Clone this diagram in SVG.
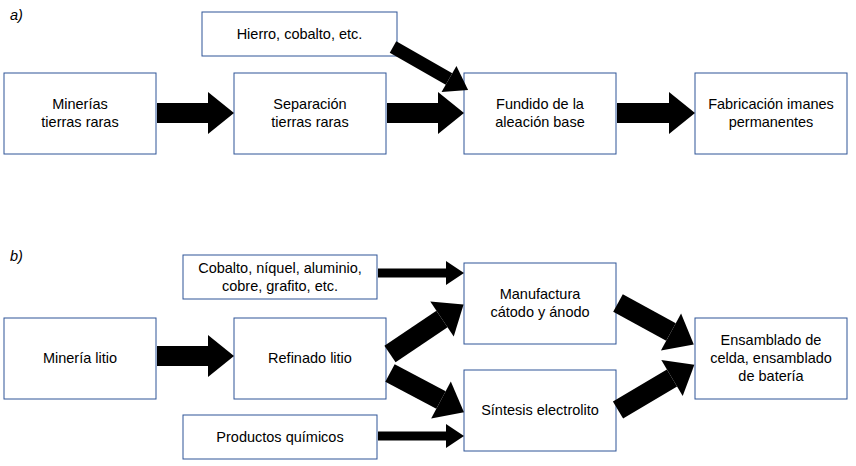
<svg xmlns="http://www.w3.org/2000/svg" width="856" height="466" viewBox="0 0 856 466">
<style>
.b{fill:#fff;stroke:#2f5597;stroke-width:1}
text{font-family:"Liberation Sans",Arial,sans-serif;font-size:14.5px;fill:#000;text-anchor:middle}
.l{font-style:italic;text-anchor:start}
.c line{stroke:#000}
.t{stroke-width:20}.m{stroke-width:13}.s{stroke-width:9}
</style>
<defs>
<marker id="hb" markerUnits="userSpaceOnUse" markerWidth="26" markerHeight="42" refX="0" refY="21" orient="auto" overflow="visible"><path d="M0,0L26,21L0,42z"/></marker>
<marker id="hm" markerUnits="userSpaceOnUse" markerWidth="22" markerHeight="30" refX="0" refY="15" orient="auto" overflow="visible"><path d="M0,0L22,15L0,30z"/></marker>
<marker id="hs" markerUnits="userSpaceOnUse" markerWidth="18" markerHeight="24" refX="0" refY="12" orient="auto" overflow="visible"><path d="M0,0L18,12L0,24z"/></marker>
</defs>
<text class="l" x="10" y="20">a)</text>
<text class="l" x="10" y="261">b)</text>
<g id="n1"><rect class="b" x="202" y="12" width="195" height="44"/><text x="299.5" y="39">Hierro, cobalto, etc.</text></g>
<g id="n2"><rect class="b" x="4" y="73" width="152" height="81"/><text x="80" y="109">Minerías</text><text x="80" y="127">tierras raras</text></g>
<g id="n3"><rect class="b" x="234" y="73" width="152" height="81"/><text x="310" y="109">Separación</text><text x="310" y="127">tierras raras</text></g>
<g id="n4"><rect class="b" x="464" y="73" width="152" height="81"/><text x="540" y="109">Fundido de la</text><text x="540" y="127">aleación base</text></g>
<g id="n5"><rect class="b" x="695" y="73" width="152" height="81"/><text x="771" y="109">Fabricación imanes</text><text x="771" y="127">permanentes</text></g>
<g id="n6"><rect class="b" x="183" y="255" width="194" height="44"/><text x="280" y="273">Cobalto, níquel, aluminio,</text><text x="280" y="291">cobre, grafito, etc.</text></g>
<g id="n7"><rect class="b" x="4" y="318" width="152" height="81"/><text x="80" y="363">Minería litio</text></g>
<g id="n8"><rect class="b" x="234" y="318" width="152" height="81"/><text x="310" y="363">Refinado litio</text></g>
<g id="n9"><rect class="b" x="464" y="263" width="152" height="81"/><text x="540" y="299">Manufactura</text><text x="540" y="317">cátodo y ánodo</text></g>
<g id="n10"><rect class="b" x="464" y="370" width="152" height="81"/><text x="540" y="415">Síntesis electrolito</text></g>
<g id="n11"><rect class="b" x="695" y="318" width="152" height="81"/><text x="771" y="345">Ensamblado de</text><text x="771" y="363">celda, ensamblado</text><text x="771" y="381">de batería</text></g>
<g id="n12"><rect class="b" x="183" y="415" width="194" height="44"/><text x="280" y="442">Productos químicos</text></g>
<g class="c" id="connectors">
<line class="t" x1="157" y1="113" x2="208" y2="113" marker-end="url(#hb)"/>
<line class="t" x1="387" y1="113" x2="438" y2="113" marker-end="url(#hb)"/>
<line class="t" x1="617" y1="113" x2="669" y2="113" marker-end="url(#hb)"/>
<line class="m" x1="393" y1="47" x2="449" y2="79" marker-end="url(#hm)"/>
<line class="s" x1="378" y1="273" x2="446" y2="273" marker-end="url(#hs)"/>
<line class="s" x1="378" y1="436" x2="446" y2="436" marker-end="url(#hs)"/>
<line class="t" x1="157" y1="356" x2="208" y2="356" marker-end="url(#hb)"/>
<line class="t" x1="390" y1="354" x2="442" y2="319" marker-end="url(#hb)"/>
<line class="t" x1="390" y1="373" x2="441" y2="400" marker-end="url(#hb)"/>
<line class="t" x1="618" y1="303" x2="671" y2="332" marker-end="url(#hb)"/>
<line class="t" x1="618" y1="410" x2="672" y2="378" marker-end="url(#hb)"/>
</g>
</svg>
